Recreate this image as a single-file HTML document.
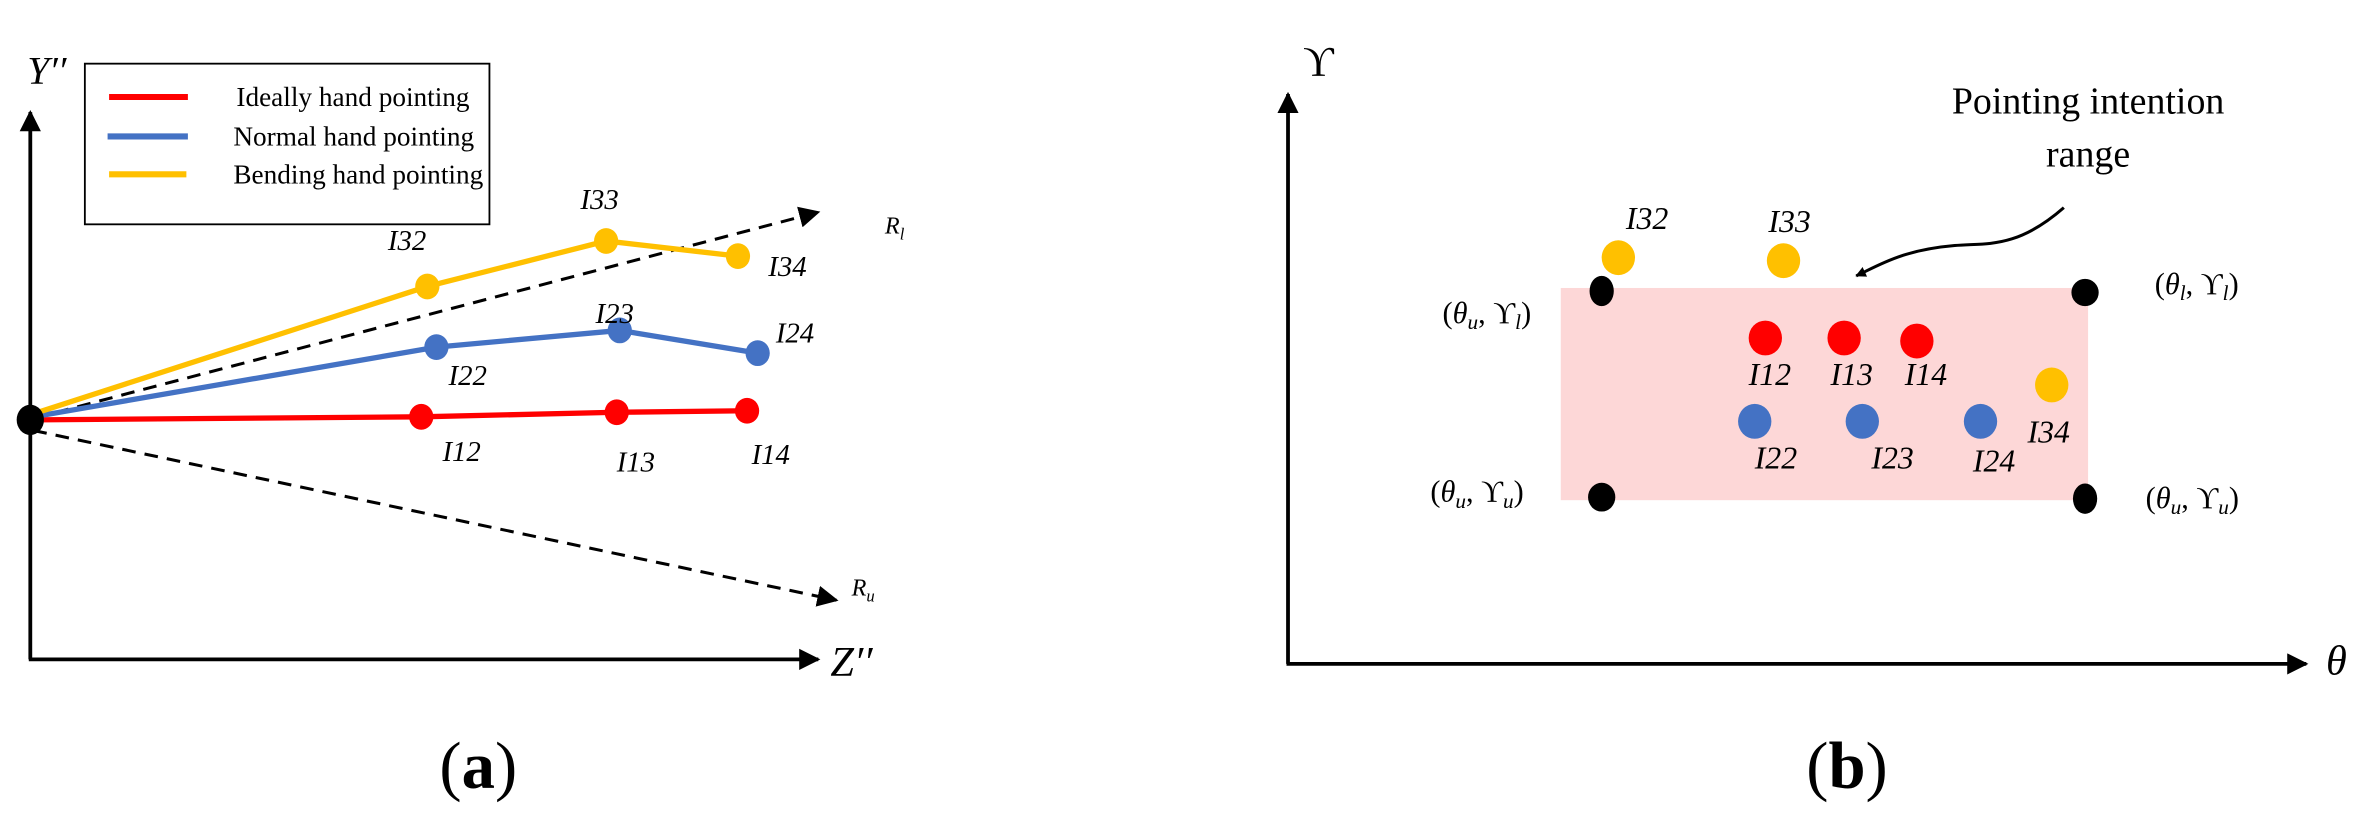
<!DOCTYPE html>
<html><head><meta charset="utf-8"><style>
html,body{margin:0;padding:0;background:#fff}
svg{display:block}
text{font-family:"Liberation Serif","DejaVu Serif",serif;fill:#000}
.i{font-style:italic;font-size:19px}
.lg{font-size:18px}
</style></head><body>
<svg width="2376" height="820" viewBox="0 0 1568 541" preserveAspectRatio="none" xmlns="http://www.w3.org/2000/svg">
<defs>
<marker id="ah" viewBox="0 0 10 10" refX="9" refY="5" markerWidth="7" markerHeight="7" orient="auto" markerUnits="userSpaceOnUse"><path d="M0,0 L10,5 L0,10 z"/></marker>
<marker id="ab" viewBox="0 0 10 10" refX="9" refY="5" markerWidth="14" markerHeight="14" orient="auto" markerUnits="userSpaceOnUse"><path d="M0,0 L10,5 L0,10 z"/></marker>
</defs>
<line x1="20" y1="435" x2="20" y2="74" stroke="#000" stroke-width="2.5" marker-end="url(#ab)"/>
<line x1="19" y1="435" x2="540" y2="435" stroke="#000" stroke-width="2.5" marker-end="url(#ab)"/>
<text x="18" y="55" class="i" style="font-size:26px">Y′′</text>
<text x="548" y="446" class="i" style="font-size:28px">Z′′</text>
<rect x="56" y="42" width="267" height="106" fill="#fff" stroke="#000" stroke-width="1.2"/>
<line x1="72" y1="64" x2="124" y2="64" stroke="#ff0000" stroke-width="4"/>
<line x1="71" y1="90" x2="124" y2="90" stroke="#4472c4" stroke-width="4"/>
<line x1="72" y1="115" x2="123" y2="115" stroke="#ffc000" stroke-width="4"/>
<text x="156" y="70" class="lg">Ideally hand pointing</text>
<text x="154" y="96" class="lg">Normal hand pointing</text>
<text x="154" y="121" class="lg">Bending hand pointing</text>
<line x1="22" y1="276" x2="540" y2="140" stroke="#000" stroke-width="2" stroke-dasharray="9,6" marker-end="url(#ab)"/>
<line x1="22" y1="284" x2="552" y2="396" stroke="#000" stroke-width="2" stroke-dasharray="9,6" marker-end="url(#ab)"/>
<text x="584" y="154" class="i" style="font-size:16px">R<tspan font-size="11" dy="4">l</tspan></text>
<text x="562" y="393" class="i" style="font-size:16px">R<tspan font-size="11" dy="4">u</tspan></text>
<polyline points="22,277 278,275 407,272 493,271" fill="none" stroke="#ff0000" stroke-width="3.5"/>
<polyline points="22,275 288,229 409,218 500,233" fill="none" stroke="#4472c4" stroke-width="3.5"/>
<polyline points="22,273 282,189 400,159 487,169" fill="none" stroke="#ffc000" stroke-width="3.5"/>
<g fill="#ff0000"><ellipse cx="278" cy="275" rx="8" ry="8.5"/><ellipse cx="407" cy="272" rx="8" ry="8.5"/><ellipse cx="493" cy="271" rx="8" ry="8.5"/></g>
<g fill="#4472c4"><ellipse cx="288" cy="229" rx="8" ry="8.5"/><ellipse cx="409" cy="218" rx="8" ry="8.5"/><ellipse cx="500" cy="233" rx="8" ry="8.5"/></g>
<g fill="#ffc000"><ellipse cx="282" cy="189" rx="8" ry="8.5"/><ellipse cx="400" cy="159" rx="8" ry="8.5"/><ellipse cx="487" cy="169" rx="8" ry="8.5"/></g>
<ellipse cx="20" cy="277" rx="9" ry="10" fill="#000"/>
<text x="292" y="304" class="i">I12</text><text x="407" y="311" class="i">I13</text><text x="496" y="306" class="i">I14</text>
<text x="296" y="254" class="i">I22</text><text x="393" y="213" class="i">I23</text><text x="512" y="226" class="i">I24</text>
<text x="256" y="165" class="i">I32</text><text x="383" y="138" class="i">I33</text><text x="507" y="182" class="i">I34</text>
<text x="290" y="520" style="font-size:44px">(<tspan font-weight="bold">a</tspan>)</text>
<rect x="1030" y="190" width="348" height="140" fill="#fdd7d7"/>
<line x1="850" y1="438" x2="850" y2="62" stroke="#000" stroke-width="2.5" marker-end="url(#ab)"/>
<line x1="849" y1="438" x2="1522" y2="438" stroke="#000" stroke-width="2.5" marker-end="url(#ab)"/>
<text x="860" y="50" style="font-size:28px">ϒ</text>
<text x="1535" y="445" class="i" style="font-size:28px">θ</text>
<text x="1378" y="75" text-anchor="middle" style="font-size:25px">Pointing intention</text>
<text x="1378" y="110" text-anchor="middle" style="font-size:25px">range</text>
<path d="M1362,137 C1330,165 1310,160 1290,162 C1255,165 1240,175 1225,182" fill="none" stroke="#000" stroke-width="2" marker-end="url(#ah)"/>
<g fill="#000"><ellipse cx="1057" cy="192" rx="8" ry="10"/><ellipse cx="1376" cy="193" rx="9" ry="9"/><ellipse cx="1057" cy="328" rx="9" ry="9.5"/><ellipse cx="1376" cy="329" rx="8" ry="10"/></g>
<text x="952" y="213" style="font-size:20px">(<tspan font-style="italic">θ<tspan font-size="14" dy="4">u</tspan></tspan><tspan dy="-4">, ϒ</tspan><tspan font-style="italic" font-size="14" dy="4">l</tspan><tspan dy="-4">)</tspan></text>
<text x="1422" y="194" style="font-size:20px">(<tspan font-style="italic">θ<tspan font-size="14" dy="4">l</tspan></tspan><tspan dy="-4">, ϒ</tspan><tspan font-style="italic" font-size="14" dy="4">l</tspan><tspan dy="-4">)</tspan></text>
<text x="944" y="331" style="font-size:20px">(<tspan font-style="italic">θ<tspan font-size="14" dy="4">u</tspan></tspan><tspan dy="-4">, ϒ</tspan><tspan font-style="italic" font-size="14" dy="4">u</tspan><tspan dy="-4">)</tspan></text>
<text x="1416" y="335" style="font-size:20px">(<tspan font-style="italic">θ<tspan font-size="14" dy="4">u</tspan></tspan><tspan dy="-4">, ϒ</tspan><tspan font-style="italic" font-size="14" dy="4">u</tspan><tspan dy="-4">)</tspan></text>
<g fill="#ff0000"><ellipse cx="1165" cy="223" rx="11" ry="11.5"/><ellipse cx="1217" cy="223" rx="11" ry="11.5"/><ellipse cx="1265" cy="225" rx="11" ry="11.5"/></g>
<g fill="#4472c4"><ellipse cx="1158" cy="278" rx="11" ry="11.5"/><ellipse cx="1229" cy="278" rx="11" ry="11.5"/><ellipse cx="1307" cy="278" rx="11" ry="11.5"/></g>
<g fill="#ffc000"><ellipse cx="1068" cy="170" rx="11" ry="11.5"/><ellipse cx="1177" cy="172" rx="11" ry="11.5"/><ellipse cx="1354" cy="254" rx="11" ry="11.5"/></g>
<text x="1154" y="254" class="i" style="font-size:21px">I12</text><text x="1208" y="254" class="i" style="font-size:21px">I13</text><text x="1257" y="254" class="i" style="font-size:21px">I14</text>
<text x="1158" y="309" class="i" style="font-size:21px">I22</text><text x="1235" y="309" class="i" style="font-size:21px">I23</text><text x="1302" y="311" class="i" style="font-size:21px">I24</text>
<text x="1073" y="151" class="i" style="font-size:21px">I32</text><text x="1167" y="153" class="i" style="font-size:21px">I33</text><text x="1338" y="292" class="i" style="font-size:21px">I34</text>
<text x="1192" y="520" style="font-size:44px">(<tspan font-weight="bold">b</tspan>)</text>
</svg>
</body></html>
